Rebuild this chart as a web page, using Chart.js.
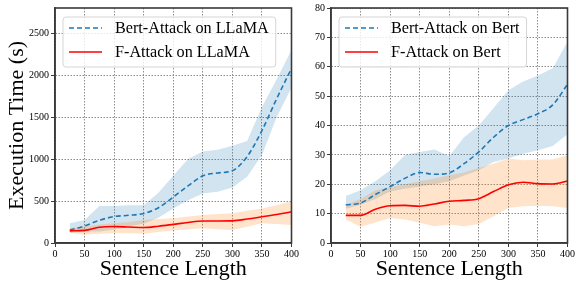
<!DOCTYPE html>
<html>
<head>
<script src="https://cdn.jsdelivr.net/npm/chart.js@4.4.1/dist/chart.umd.min.js"></script>
<style>
  body { margin: 0; background: #fff; }
  .panel { position: absolute; top: 0; height: 282px; }
</style>
</head>
<body>
<div class="panel" style="left:0;width:300px"><canvas id="llamaChart"></canvas></div>
<div class="panel" style="left:300px;width:276px"><canvas id="bertChart"></canvas></div>
<script>
// sentence lengths (x axis)
const lengths = [25, 50, 75, 100, 125, 150, 175, 200, 225, 250, 275, 300, 325, 350, 375, 400];
const xTicks = [0, 50, 100, 150, 200, 250, 300, 350, 400];

// left panel: LLaMA
const bertLlama   = [155, 203, 270, 315, 330, 352, 420, 548, 680, 800, 835, 862, 1030, 1340, 1720, 2080];
const bertLlamaHi = [235, 275, 440, 440, 450, 450, 600, 800, 1000, 1090, 1110, 1160, 1215, 1620, 1950, 2300];
const bertLlamaLo = [118, 137, 137, 160, 200, 230, 300, 410, 510, 590, 610, 660, 790, 1050, 1500, 1850];
const fLlama      = [145, 150, 188, 196, 190, 184, 200, 222, 245, 262, 263, 264, 285, 312, 340, 372];
const fLlamaHi    = [176, 196, 220, 235, 250, 274, 285, 294, 315, 333, 345, 353, 385, 412, 450, 497];
const fLlamaLo    = [118, 98, 110, 118, 115, 110, 130, 149, 165, 176, 165, 156, 195, 235, 225, 215];

// right panel: Bert
const bertBert   = [13, 13.6, 16.5, 19.2, 22, 24, 23.4, 23.9, 27, 31, 36, 40, 42, 44, 47, 54];
const bertBertHi = [16, 18, 21, 24.8, 30, 31, 31.8, 29.5, 36, 40, 46, 52, 55, 57, 59.5, 68.5];
const bertBertLo = [11.7, 13, 15, 17.5, 18.5, 19.2, 20, 21, 23, 24.8, 27.6, 28.8, 30.4, 31.6, 33, 37];
const fBert      = [9.4, 9.4, 11.5, 12.7, 12.8, 12.5, 13.3, 14.2, 14.5, 15.1, 17.5, 19.8, 20.7, 20.2, 20.1, 21.1];
const fBertHi    = [13, 15, 18, 19, 20, 21, 22, 23.1, 24, 25.5, 27, 28.8, 28.2, 28.4, 28.4, 29.9];
const fBertLo    = [8, 5.5, 7, 8.5, 8, 6.9, 5.7, 6.3, 5.7, 6.5, 9.1, 11.9, 12.5, 12.7, 12.5, 11.9];

const SERIF = "'Liberation Serif', 'Times New Roman', serif";
const BLUE = '#1f77b4';
const RED = '#ff0000';
Chart.defaults.font.family = SERIF;

const pts = ys => ys.map((y, i) => ({ x: lengths[i], y: y }));

// frame around the plot area (matplotlib style box)
const frame = {
  id: 'frame',
  afterDatasetsDraw(chart) {
    const { ctx, chartArea: a } = chart;
    ctx.save();
    ctx.strokeStyle = '#3a3a3a';
    ctx.lineWidth = 1.6;
    ctx.strokeRect(a.left, a.top, a.right - a.left, a.bottom - a.top);
    ctx.restore();
  }
};

// legend box drawn inside the plot, upper left
const boxLegend = {
  id: 'boxLegend',
  afterDraw(chart) {
    const { ctx, chartArea: a } = chart;
    const items = chart.data.datasets.filter(d => d.label);
    ctx.save();
    ctx.font = '16.2px ' + SERIF;
    const textW = Math.max(...items.map(d => ctx.measureText(d.label).width));
    const x = a.left + 8, y = a.top + 9;
    const w = 52 + textW + 7, h = 50;
    ctx.beginPath();
    ctx.roundRect(x, y, w, h, 3);
    ctx.fillStyle = 'rgba(255,255,255,0.8)';
    ctx.fill();
    ctx.strokeStyle = '#d5d5d5';
    ctx.lineWidth = 1;
    ctx.stroke();
    items.forEach((d, i) => {
      const ly = y + 11 + i * 24;
      ctx.beginPath();
      ctx.setLineDash(d.borderDash || []);
      ctx.strokeStyle = d.borderColor;
      ctx.lineWidth = d.borderWidth;
      ctx.moveTo(x + 6, ly);
      ctx.lineTo(x + 39, ly);
      ctx.stroke();
      ctx.setLineDash([]);
      ctx.fillStyle = '#000';
      ctx.textBaseline = 'middle';
      ctx.fillText(d.label, x + 52, ly + 1);
    });
    ctx.restore();
  }
};

function makeChart(id, opts) {
  const datasets = [
    { label: opts.bertLabel, data: pts(opts.bert), borderColor: BLUE, borderWidth: 1.6,
      borderDash: [5, 3], tension: 0.4, cubicInterpolationMode: 'monotone', fill: false, order: 1 },
    { label: opts.fLabel, data: pts(opts.f), borderColor: RED, borderWidth: 1.6,
      tension: 0.4, cubicInterpolationMode: 'monotone', fill: false, order: 0 },
    { data: pts(opts.bertLo), borderWidth: 0, fill: false, order: 5 },
    { data: pts(opts.bertHi), borderWidth: 0, fill: '-1', backgroundColor: 'rgba(31,119,180,0.2)', order: 4 },
    { data: pts(opts.fLo), borderWidth: 0, fill: false, order: 3 },
    { data: pts(opts.fHi), borderWidth: 0, fill: '-1', backgroundColor: 'rgba(255,127,14,0.22)', order: 2 },
  ];
  const tickFont = { family: SERIF, size: 10 };
  const gridOpts = { color: '#8c8c8c', lineWidth: 1, tickLength: 4, tickColor: '#3a3a3a', tickWidth: 1 };
  const borderOpts = { color: '#3a3a3a', width: 1.5, dash: [1.5, 1.5] };
  return new Chart(document.getElementById(id), {
    type: 'line',
    data: { datasets: datasets },
    options: {
      responsive: true,
      maintainAspectRatio: false,
      animation: false,
      elements: { point: { radius: 0 } },
      layout: { padding: { left: 0, right: 7, top: 5, bottom: 0 } },
      plugins: { legend: { display: false }, tooltip: { enabled: false } },
      scales: {
        x: {
          type: 'linear', min: 0, max: 400,
          afterBuildTicks: s => { s.ticks = xTicks.map(v => ({ value: v })); },
          afterFit: s => { s.height = 39; },
          ticks: { font: tickFont, color: '#000', padding: 1, maxRotation: 0, autoSkip: false,
                   callback: v => String(v) },
          grid: gridOpts,
          border: borderOpts,
          title: { display: true, text: 'Sentence Length', color: '#000',
                   font: { family: SERIF, size: 22 }, padding: 0 }
        },
        y: {
          min: 0, max: opts.yMax,
          afterBuildTicks: s => { s.ticks = opts.yTicks.map(v => ({ value: v })); },
          afterFit: s => { s.width = opts.yWidth; },
          ticks: { font: tickFont, color: '#000', padding: 2, callback: v => String(v) },
          grid: gridOpts,
          border: borderOpts,
          title: { display: opts.yTitle, text: 'Execution Time (s)', color: '#000',
                   font: { family: SERIF, size: 22 }, padding: { top: 4, bottom: 0 } }
        }
      }
    },
    plugins: [frame, boxLegend]
  });
}

makeChart('llamaChart', {
  bertLabel: 'Bert-Attack on LLaMA', fLabel: 'F-Attack on LLaMA',
  bert: bertLlama, bertHi: bertLlamaHi, bertLo: bertLlamaLo,
  f: fLlama, fHi: fLlamaHi, fLo: fLlamaLo,
  yMax: 2800, yTicks: [0, 500, 1000, 1500, 2000, 2500], yWidth: 55, yTitle: true
});

makeChart('bertChart', {
  bertLabel: 'Bert-Attack on Bert', fLabel: 'F-Attack on Bert',
  bert: bertBert, bertHi: bertBertHi, bertLo: bertBertLo,
  f: fBert, fHi: fBertHi, fLo: fBertLo,
  yMax: 80, yTicks: [0, 10, 20, 30, 40, 50, 60, 70, 80], yWidth: 31, yTitle: false
});
</script>
</body>
</html>
